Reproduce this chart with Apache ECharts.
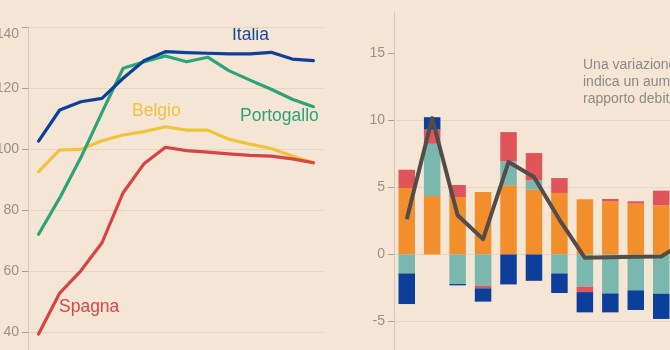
<!DOCTYPE html>
<html>
<head>
<meta charset="utf-8">
<script src="https://cdn.jsdelivr.net/npm/echarts@6/dist/echarts.min.js"></script>
<style>
html,body{margin:0;padding:0;background:#f4e5d5;}
#c{width:670px;height:350px;}
</style>
</head>
<body>
<div id="c"></div>
<script>
// ---- Left panel: debito/Pil (%)
const years = ['2008','2009','2010','2011','2012','2013','2014','2015','2016','2017','2018','2019','2020','2021'];
const italia     = [102.7, 112.9, 115.6, 116.7, 123.3, 129.1, 132.0, 131.7, 131.5, 131.3, 131.3, 131.8, 129.6, 129.1];
const portogallo = [72.2, 84.1, 97.3, 112.1, 126.6, 128.7, 130.6, 128.7, 130.2, 125.8, 122.7, 119.7, 116.4, 114.0];
const belgio     = [92.7, 99.8, 100.0, 102.8, 104.7, 105.8, 107.4, 106.3, 106.3, 103.3, 101.7, 100.3, 97.8, 95.6];
const spagna     = [39.5, 52.9, 60.2, 69.4, 85.8, 95.4, 100.7, 99.6, 99.1, 98.5, 98.0, 97.8, 96.9, 95.6];
const leftTicks  = [20, 40, 60, 80, 100, 120, 140];

// ---- Right panel: contributi alla variazione (punti percentuali)
const cats       = ['2008','2009','2010','2011','2012','2013','2014','2015','2016','2017','2018','2019'];
const interessi  = [4.95, 4.36, 4.28, 4.65, 5.15, 4.83, 4.58, 4.11, 3.96, 3.79, 3.66, null];
const crescita   = [-1.41, 3.88, -2.20, -2.33, 1.78, 0.69, -1.41, -2.40, -2.90, -2.67, -2.92, null];
const inflazione = [1.36, 1.07, 0.89, -0.19, 2.18, 2.03, 1.11, -0.40, 0.17, 0.17, 1.09, null];
const saldo      = [-2.28, 0.91, -0.10, -0.99, -2.23, -1.96, -1.46, -1.51, -1.41, -1.46, -1.88, null];
const variazione = [2.62, 10.15, 2.92, 1.14, 6.88, 5.77, 2.60, -0.25, -0.20, -0.17, -0.15, 1.00];
const rightTicks = [-10, -5, 0, 5, 10, 15];

const FONT = '"Liberation Sans", Arial, sans-serif';
const GRID_C = '#e6d5c5';
const AXIS_C = '#d6c6b6';
const LABEL_C = '#999189';

const chart = echarts.init(document.getElementById('c'), null, {renderer: 'canvas'});

function lineSeries(name, data, color) {
  return {
    name, type: 'line', xAxisIndex: 0, yAxisIndex: 0, data,
    symbol: 'none', smooth: false,
    lineStyle: {color, width: 3.2, cap: 'round', join: 'round'},
    itemStyle: {color}, z: 3
  };
}
function barSeries(name, data, color) {
  return {
    name, type: 'bar', xAxisIndex: 1, yAxisIndex: 1, data, stack: 'tot',
    barWidth: 16.5, itemStyle: {color}, z: 2
  };
}

chart.setOption({
  backgroundColor: '#f4e5d5',
  animation: false,
  textStyle: {fontFamily: FONT},
  grid: [
    {left: 28, right: 346, top: 27.3, bottom: -43.5, containLabel: false, outerBoundsMode: 'none'},
    {left: 394, right: -29.4, top: 12.7, bottom: -38.8, containLabel: false, outerBoundsMode: 'none'}
  ],
  xAxis: [
    {type: 'category', gridIndex: 0, data: years, boundaryGap: true,
     axisLine: {show: false}, axisTick: {show: false}, axisLabel: {show: false}},
    {type: 'category', gridIndex: 1, data: cats, boundaryGap: true,
     axisLine: {show: false}, axisTick: {show: false}, axisLabel: {show: false}}
  ],
  yAxis: [
    {type: 'value', gridIndex: 0, min: leftTicks[0], max: leftTicks[leftTicks.length - 1], interval: 20,
     axisLine: {show: true, lineStyle: {color: AXIS_C, width: 1}},
     axisTick: {show: true, length: 6, lineStyle: {color: '#a89f97', width: 1}},
     axisLabel: {color: LABEL_C, fontSize: 14, fontFamily: FONT, margin: 9, verticalAlignMaxLabel: 'top'},
     splitLine: {show: true, lineStyle: {color: GRID_C, width: 1}}},
    {type: 'value', gridIndex: 1, min: -10, max: 18, interval: 5,
     axisLine: {show: true, onZero: false, lineStyle: {color: AXIS_C, width: 1}},
     axisTick: {show: true, length: 6, customValues: rightTicks, lineStyle: {color: '#a89f97', width: 1}},
     axisLabel: {color: LABEL_C, fontSize: 14, fontFamily: FONT, margin: 9, customValues: rightTicks,
                 formatter: v => String(v)},
     splitLine: {show: true, showMaxLine: false, lineStyle: {color: GRID_C, width: 1}}}
  ],
  series: [
    lineSeries('Belgio', belgio, '#efc43a'),
    lineSeries('Spagna', spagna, '#d74444'),
    lineSeries('Portogallo', portogallo, '#2ea37a'),
    lineSeries('Italia', italia, '#0d3f9c'),
    barSeries('Interessi', interessi, '#f28f2c'),
    barSeries('Crescita', crescita, '#79b7af'),
    barSeries('Inflazione', inflazione, '#e0555a'),
    barSeries('Saldo primario', saldo, '#0b3f99'),
    {name: 'Variazione', type: 'line', xAxisIndex: 1, yAxisIndex: 1, data: variazione,
     symbol: 'none', lineStyle: {color: '#534c48', width: 4, join: 'round'}, z: 5}
  ],
  graphic: [
    {type: 'text', left: 232, top: 26, style: {text: 'Italia', fill: '#1a4a9e', font: '17.5px ' + FONT}},
    {type: 'text', left: 132, top: 102, style: {text: 'Belgio', fill: '#eec43c', font: '17.5px ' + FONT}},
    {type: 'text', left: 240, top: 107, style: {text: 'Portogallo', fill: '#2ea37a', font: '17.5px ' + FONT}},
    {type: 'text', left: 59, top: 298, style: {text: 'Spagna', fill: '#d84646', font: '17.5px ' + FONT}},
    {type: 'text', left: 583, top: 57, style: {text: 'Una variazione positiva\nindica un aumento del\nrapporto debito/Pil', fill: '#8f8a85', font: '14px ' + FONT, lineHeight: 17}}
  ]
});
</script>
</body>
</html>
